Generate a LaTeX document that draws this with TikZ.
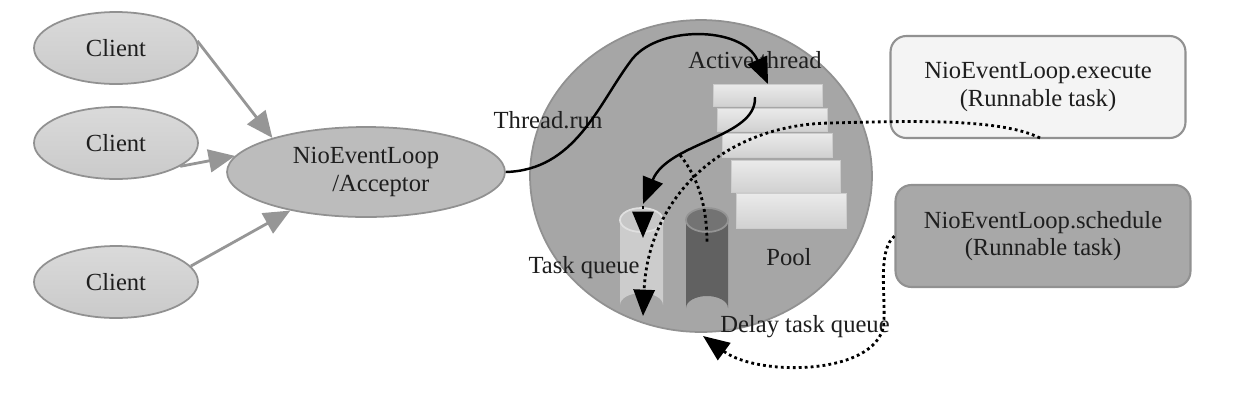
\documentclass[tikz,border=0pt]{standalone}
\usepackage{fontspec}
\setmainfont{Liberation Serif}
\usetikzlibrary{arrows.meta,shapes.geometric}
\definecolor{clientfill}{RGB}{202,202,202}
\definecolor{accfill}{RGB}{188,188,188}
\definecolor{edgegray}{RGB}{145,145,145}
\definecolor{arrowgray}{RGB}{150,150,150}
\definecolor{poolfill}{RGB}{166,166,166}
\definecolor{execfill}{RGB}{244,244,244}
\definecolor{schedfill}{RGB}{168,168,168}
\definecolor{txt}{RGB}{30,30,30}

\begin{document}
\begin{tikzpicture}[x=0.02cm,y=-0.02cm,
	font=\fontsize{14}{15.5}\selectfont, text=txt,
	client/.style={ellipse,draw=edgegray,line width=1pt,top color=clientfill!70!white,bottom color=clientfill,minimum width=3.28cm,minimum height=1.44cm,inner sep=0pt},
	feed/.style={draw=arrowgray,line width=1.6pt,-{Triangle[length=15pt,width=13pt]}},
	run/.style={draw=black,line width=1.4pt,-{Triangle[length=15pt,width=12pt]}},
	dots/.style={draw=black,line width=1.6pt,dash pattern=on 1.6pt off 1.8pt,-{Triangle[length=15pt,width=12pt]}},
	taskbox/.style={rounded corners=9pt,draw=edgegray,line width=1.2pt,minimum width=5.9cm,minimum height=2.04cm,align=center},
	slot/.style={draw=black!20,top color=black!8,bottom color=black!18}]
\useasboundingbox (0,0) rectangle (1234,400);

% pool of threads
\node [ellipse,draw=edgegray,fill=poolfill,line width=1pt,minimum width=6.84cm,minimum height=6.24cm,inner sep=0pt] (p) at (701,176) {};
\foreach \xa/\xb/\ya/\yb in {713/822/84/106, 717/827/108/131, 722/832/133/157, 731/840/160/192, 736/846/193/228}
	\draw [slot] (\xa,\ya) rectangle (\xb,\yb);
\coordinate (t) at (755,97);

% task queue
\fill [black!20] (620,220) -- (620,305) arc (180:360:21.5 and 12) -- (663,220) -- cycle;
\draw [draw=black!12,fill=black!22,line width=1pt] (641.5,220) ellipse (21.5 and 12);
\coordinate (tq) at (643,238);
\coordinate (tqb) at (643,316);
% delay task queue
\fill [black!62] (686,220) -- (686,308) arc (180:360:21 and 12) -- (728,220) -- cycle;
\draw [draw=black!42,fill=black!55,line width=1pt] (707,220) ellipse (21 and 12);
\coordinate (dq) at (707,243);
\coordinate (dqb) at (703,336);

% clients and acceptor
\node [client] (c1) at (116,48) {Client};
\node [client] (c2) at (116,143) {Client};
\node [client] (c3) at (116,282) {Client};
\node [ellipse,draw=edgegray,line width=1pt,fill=accfill,minimum width=5.56cm,minimum height=1.8cm,inner sep=0pt,align=center] (a) at (366,172) {NioEventLoop\\\hspace*{1.2em}/Acceptor};
\draw [feed] (c1.5) -- (a.160);
\draw [feed] (c2.-20) -- (a.173);
\draw [feed] (c3.12) -- (a.207);

% labels
\node (tr) at (548,120) {Thread.run};
\node (at) at (755,60) {Active thread};
\node (pl) at (789,257) {Pool};
\node (tql) at (584,268) {Task queue};
\node (dql) at (805,327) {Delay task queue};

% task sources
\node [taskbox,fill=execfill] (e) at (1038,87) {NioEventLoop.execute\\(Runnable task)};
\node [taskbox,fill=schedfill] (s) at (1043,236) {NioEventLoop.schedule\\(Runnable task)};

% thread run
\draw [run] (a.east) .. controls (575,170) and (598,105) .. (630,62) .. controls (655,25) and (742,25) .. (768,84);
\draw [run] (t) .. controls (757,138) and (668,142) .. (643,204);
\draw [dots] (643,206) -- (tq);
\draw [dots] (1040,138) .. controls (1000,118) and (910,121) .. (830,123) .. controls (720,125) and (648,200) .. (tqb);
\draw [dots,-] (680,155) .. controls (700,180) and (707,210) .. (dq);
\draw [dots] (s.west) .. controls (878,250) and (885,290) .. (884,320) .. controls (884,375) and (760,378) .. (dqb);
\end{tikzpicture}
\end{document}
